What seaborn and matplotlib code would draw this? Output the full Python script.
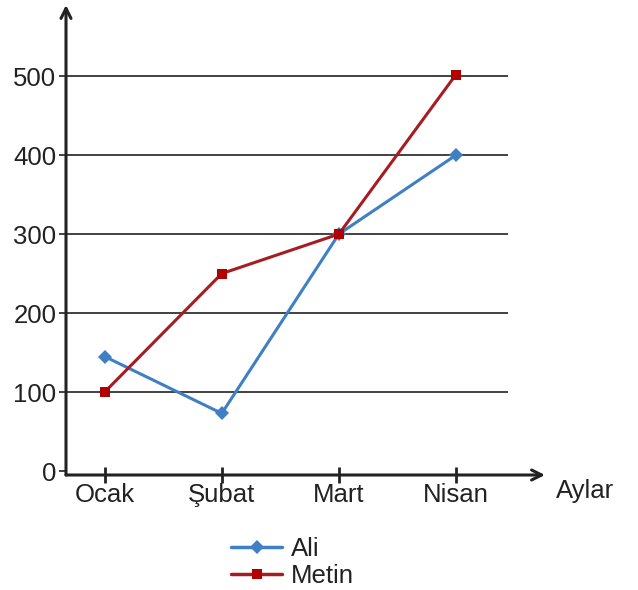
import matplotlib
matplotlib.use("Agg")
import matplotlib.pyplot as plt
import seaborn as sns
import pandas as pd

months = ["Ocak", "Şubat", "Mart", "Nisan"]
ali = [145, 73, 300, 400]
metin = [100, 250, 300, 502]
yticks = [0, 100, 200, 300, 400, 500]
x_title = "Aylar"

df = pd.DataFrame({
    "Ay": months * 2,
    "Değer": ali + metin,
    "Kişi": ["Ali"] * len(ali) + ["Metin"] * len(metin),
})

sns.set_theme(style="white")
plt.rcParams["font.family"] = ["Liberation Sans", "DejaVu Sans"]

W, H = 638, 590
FS = 18.5
fig = plt.figure(figsize=(W / 100, H / 100), dpi=100)
ax = fig.add_axes([66 / W, 1 - 475 / H, (545 - 66) / W, (475 - 5) / H])

palette = {"Ali": "#3f7fc3", "Metin": "#a51d22"}
sns.lineplot(data=df, x="Ay", y="Değer", hue="Kişi", style="Kişi",
             markers={"Ali": "D", "Metin": "s"}, dashes=False,
             palette=palette, linewidth=2.2, markersize=7,
             markeredgewidth=0, ax=ax, sort=False, legend=False, zorder=3)
for line, mc in zip(ax.lines, ["#3f7fc3", "#b00000"]):
    line.set_markerfacecolor(mc)

ax.set_xlim(-0.33, 3.76)
ax.set_ylim(-5, 590)
ax.hlines(yticks[1:], -0.33, 3.44, color="#333333", linewidth=1.3, zorder=1)

for s in ax.spines.values():
    s.set_visible(False)
ax.annotate("", xy=(1.0, 0), xycoords="axes fraction", xytext=(0, 0),
            arrowprops=dict(arrowstyle="->", color="#222222", lw=2.2,
                            mutation_scale=18, shrinkA=0, shrinkB=0))
ax.annotate("", xy=(0, 1.0), xycoords="axes fraction", xytext=(0, 0),
            arrowprops=dict(arrowstyle="->", color="#222222", lw=2.2,
                            mutation_scale=18, shrinkA=0, shrinkB=0))

ax.set_xticks(range(len(months)))
ax.set_xticklabels(months)
ax.set_yticks(yticks)
ax.set_yticklabels([str(v) for v in yticks])
ax.tick_params(axis="x", direction="inout", length=12, width=2, color="#222222",
               labelsize=FS, labelcolor="#222222", pad=0, bottom=True)
ax.tick_params(axis="y", direction="out", length=5, width=1.3, color="#333333",
               labelsize=FS, labelcolor="#222222", pad=2, left=True)
ax.set_xlabel("")
ax.set_ylabel("")
fig.text(585 / W, 1 - 491 / H, x_title, fontsize=FS, color="#222222",
         ha="center", va="center")

# legend
from matplotlib.lines import Line2D
handles = [
    Line2D([], [], color="#3f7fc3", lw=2.5, marker="D", markersize=7,
           markerfacecolor="#3f7fc3", markeredgewidth=0),
    Line2D([], [], color="#a51d22", lw=2.5, marker="s", markersize=7,
           markerfacecolor="#b00000", markeredgewidth=0),
]
fig.legend(handles, ["Ali", "Metin"], loc="upper left",
           bbox_to_anchor=(218 / W, 1 - 524 / H), frameon=False,
           fontsize=FS, handlelength=2.0, handletextpad=0.35,
           labelspacing=0.12, borderpad=0, labelcolor="#222222")

fig.savefig("out.png", dpi=100)
